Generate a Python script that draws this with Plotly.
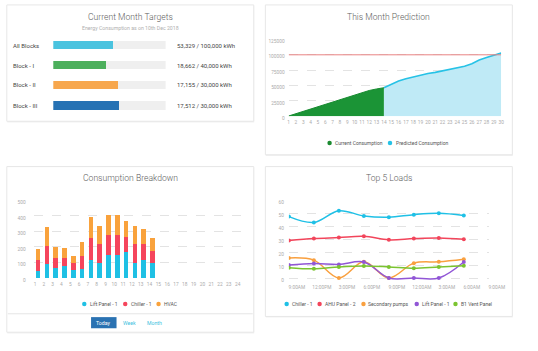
import plotly.graph_objects as go

W, H = 538, 351
def X(p): return p / W
def Y(p): return 1 - p / H

FONT = "Roboto"
TITLE_C = "#606060"
TEXT_C = "#454545"
TICK_C = "#ababab"
GRID_C = "#e3e3e3"

# ---------------- data ----------------
# Current Month Targets
block_names = ["All Blocks", "Block - I", "Block - II", "Block - III"]
block_used = [53329, 18662, 17155, 17512]
block_target = [100000, 40000, 30000, 30000]
block_colors = ["#4ac3df", "#4caf5c", "#f7a74d", "#2672b4"]

# This Month Prediction
month_days = list(range(1, 31))
current_days = list(range(1, 15))
current_kwh = [500, 4300, 8100, 11900, 15700, 19500, 23300, 27300, 31500, 35500,
               39000, 42000, 44500, 46500]
predicted_days = list(range(14, 31))
predicted_kwh = [46500, 52500, 57500, 61000, 64000, 67000, 69500, 71500, 74000,
                 76000, 78500, 81500, 85500, 91500, 95500, 99000, 103000]
monthly_target = 100000

# Consumption Breakdown
hours = list(range(1, 25))
hours_used = list(range(1, 15))
lift_panel = [45, 88, 62, 75, 50, 60, 118, 98, 147, 147, 168, 98, 118, 98]
chiller = [72, 118, 70, 57, 47, 84, 138, 118, 128, 128, 98, 118, 98, 78]
hvac = [68, 120, 68, 60, 43, 86, 138, 120, 132, 132, 102, 120, 100, 80]

# Top 5 Loads
load_times = ["2018-12-10 09:00", "2018-12-10 12:00", "2018-12-10 15:00",
              "2018-12-10 18:00", "2018-12-10 21:00", "2018-12-11 00:00",
              "2018-12-11 03:00", "2018-12-11 06:00"]
chiller_1 = [47.5, 43, 52, 48, 47, 49, 50, 48.3]
ahu_panel_2 = [29, 30.5, 31.3, 32.2, 29.5, 30.5, 31, 30]
secondary_pumps = [15.5, 13.8, 0, 12.5, 0, 11.5, 12.5, 14.5]
lift_panel_1 = [10, 11.2, 10.5, 12.4, 0, 0, 0, 12.4]
b1_vent_panel = [8, 7.1, 8.6, 9.3, 8.6, 7.6, 8.6, 9.4]
load_names = ["Chiller - 1", "AHU Panel - 2", "Secondary pumps", "Lift Panel - 1", "B1 Vent Panel"]
load_colors = ["#1fc0e6", "#f2455b", "#f9a03f", "#9156d6", "#7bc430"]

fig = go.Figure()

# ---- panel 1: progress bars ----
frac = [u / t for u, t in zip(block_used, block_target)]
fig.add_trace(go.Bar(x=frac, y=block_names, orientation="h", width=0.4,
                     marker=dict(color=block_colors, line_width=0),
                     xaxis="x", yaxis="y", hoverinfo="skip"))
fig.add_trace(go.Bar(x=[1 - f for f in frac], y=block_names, orientation="h", width=0.4,
                     marker=dict(color="#efefef", line_width=0),
                     xaxis="x", yaxis="y", hoverinfo="skip"))

# ---- panel 2: prediction ----
fig.add_trace(go.Scatter(x=predicted_days, y=predicted_kwh, mode="lines", fill="tozeroy",
                         fillcolor="#bfeaf6", line=dict(color="#27c2e6", width=1.6),
                         xaxis="x2", yaxis="y2"))
fig.add_trace(go.Scatter(x=current_days, y=current_kwh, mode="lines", fill="tozeroy",
                         fillcolor="#1b9436", line=dict(color="#168a2f", width=1),
                         xaxis="x2", yaxis="y2"))
fig.add_trace(go.Scatter(x=month_days, y=[monthly_target] * len(month_days), mode="lines",
                         line=dict(color="#e98484", width=1), xaxis="x2", yaxis="y2"))

# ---- panel 3: breakdown ----
for vals, col in [(lift_panel, "#1fc0e4"), (chiller, "#f5455c"), (hvac, "#f9a23c")]:
    fig.add_trace(go.Bar(x=hours_used, y=vals, width=0.52, marker=dict(color=col, line_width=0),
                         xaxis="x3", yaxis="y3"))

# ---- panel 4: top 5 loads ----
for vals, col in zip([chiller_1, ahu_panel_2, secondary_pumps, lift_panel_1, b1_vent_panel], load_colors):
    fig.add_trace(go.Scatter(x=load_times, y=vals, mode="lines+markers",
                             line=dict(color=col, width=1.5, shape="spline", smoothing=1),
                             marker=dict(color=col, size=4),
                             xaxis="x4", yaxis="y4"))

tickfont = dict(family=FONT, size=4.8, color=TICK_C)

fig.update_layout(
    width=W, height=H, margin=dict(l=0, r=0, t=0, b=0),
    paper_bgcolor="#ffffff", plot_bgcolor="rgba(0,0,0,0)",
    showlegend=False, barmode="stack", font=dict(family=FONT),
    xaxis=dict(domain=[X(54), X(170)], range=[0, 1], visible=False, anchor="y", fixedrange=True),
    yaxis=dict(domain=[Y(117.2), Y(35.8)], type="category", range=[3.5, -0.5],
               visible=False, anchor="x"),
    xaxis2=dict(domain=[X(297), X(516.5)], range=[1, 30], tickmode="array", tickvals=month_days,
                tickangle=0, showgrid=False, zeroline=False, showline=False, ticks="",
                tickfont=tickfont, anchor="y2", ticklabelstandoff=2),
    yaxis2=dict(domain=[Y(118), Y(40)], range=[0, 125000], dtick=25000, tick0=0, tickformat="d",
                showgrid=True, gridcolor=GRID_C, griddash="dash", zeroline=False, showline=False,
                ticks="", tickfont=tickfont, anchor="x2", ticklabelshift=2, ticklabelstandoff=3),
    xaxis3=dict(domain=[X(33.7), X(252)], range=[0.5, 24.5], tickmode="array", tickvals=hours,
                tickangle=0, showgrid=False, zeroline=False, showline=False, ticks="",
                tickfont=tickfont, anchor="y3", ticklabelshift=-3, ticklabelstandoff=2),
    yaxis3=dict(domain=[Y(282), Y(203.3)], range=[0, 500], dtick=100, tick0=0,
                showgrid=True, gridcolor=GRID_C, griddash="dash", zeroline=False, showline=False,
                ticks="", tickfont=tickfont, anchor="x3", ticklabelshift=2, ticklabelstandoff=7),
    xaxis4=dict(type="date", domain=[X(297.3), X(503.7)],
                range=["2018-12-10 09:00", "2018-12-11 09:00"], dtick=3 * 3600 * 1000,
                tick0="2018-12-10 09:00", tickformat="%-I:%M%p", tickangle=0,
                showgrid=False, zeroline=False, showline=False, ticks="", tickfont=tickfont,
                anchor="y4", ticklabelshift=8, ticklabelstandoff=2),
    yaxis4=dict(domain=[Y(285.3), Y(203.3)], range=[-2.5, 60], dtick=10, tick0=0,
                showgrid=True, gridcolor=GRID_C, griddash="dash", zeroline=False, showline=False,
                ticks="", tickfont=tickfont, anchor="x4", ticklabelshift=2, ticklabelstandoff=4),
)

shapes = []
annotations = []

def rect(x0, y0, x1, y1, **kw):
    shapes.append(dict(type="rect", xref="paper", yref="paper",
                       x0=X(x0), x1=X(x1), y0=Y(y1), y1=Y(y0), **kw))

def text(x, y, s, size, color, xanchor="center", weight=400, **kw):
    annotations.append(dict(x=X(x), y=Y(y), xref="paper", yref="paper", text=s, showarrow=False,
                            xanchor=xanchor, yanchor="middle", borderpad=0,
                            font=dict(family=FONT, size=size, color=color, weight=weight), **kw))

def dot(x, y, color, r=2.3):
    shapes.append(dict(type="circle", xref="paper", yref="paper",
                       x0=X(x - r), x1=X(x + r), y0=Y(y + r), y1=Y(y - r),
                       fillcolor=color, line=dict(width=0)))

# cards (shadow + body)
for (x0, y0, x1, y1) in [(6, 5, 261, 123), (273, 5, 528, 157), (6, 169, 261, 337), (273, 169, 528, 321)]:
    rect(x0 + 0.5, y0 + 1, x1 + 0.5, y1 + 1.2, fillcolor="#f1f1f1", line=dict(width=0), layer="below")
    rect(x0, y0, x1, y1, fillcolor="#ffffff", line=dict(color="#e7e7e7", width=1), layer="below")

TS = 8.6
LS = 5.0
# panel 1 texts
text(133.5, 17, "Current Month Targets", TS, TITLE_C, weight=300)
text(133.5, 28, "Energy Consumption as on 10th Dec 2018", 5.2, "#b0b0b0")
row_y = [46, 66, 86, 107]
for name, u, t, yy in zip(block_names, block_used, block_target, row_y):
    text(11, yy, name, 6.0, TEXT_C, xanchor="left")
    text(181, yy, f"{u:,} / {t:,} kWh", 6.0, TEXT_C, xanchor="left")

# panel 2 texts + legend
text(400.5, 17, "This Month Prediction", TS, TITLE_C, weight=300)
dot(339.3, 145, "#1b8a30")
text(344, 145, "Current Consumption", LS, "#555555", xanchor="left")
dot(401.7, 145, "#27c2e6")
text(406.5, 145, "Predicted Consumption", LS, "#555555", xanchor="left")

# panel 3 texts + legend + buttons
text(133.5, 181, "Consumption Breakdown", TS, TITLE_C, weight=300)
for xd, xt, col, s in [(86, 90.7, "#1fc0e4", "Lift Panel - 1"), (128.3, 132.7, "#f5455c", "Chiller - 1"),
                       (162.7, 167.3, "#f9a23c", "HVAC")]:
    dot(xd, 308.3, col)
    text(xt, 308.3, s, LS, "#555555", xanchor="left")
shapes.append(dict(type="line", xref="paper", yref="paper", x0=X(7), x1=X(260), y0=Y(318.3), y1=Y(318.3),
                   line=dict(color="#e6e6e6", width=1)))
rect(93, 321.7, 119.3, 333, fillcolor="#2a72b2", line=dict(width=0))
text(106.2, 327.3, "Today", 5.2, "#ffffff")
text(132.5, 327.3, "Week", 5.2, "#3fbfe0")
text(159, 327.3, "Month", 5.2, "#3fbfe0")

# panel 4 texts + legend
text(400.5, 181, "Top 5 Loads", TS, TITLE_C, weight=300)
leg4 = [(295, 299.3), (329, 333.3), (374.3, 378.3), (429.3, 434), (469.3, 474)]
for (xd, xt), col, s in zip(leg4, load_colors, load_names):
    dot(xd, 308.3, col)
    text(xt, 308.3, s, LS, "#555555", xanchor="left")

fig.update_layout(shapes=shapes, annotations=annotations)
fig.write_html("out.html")
